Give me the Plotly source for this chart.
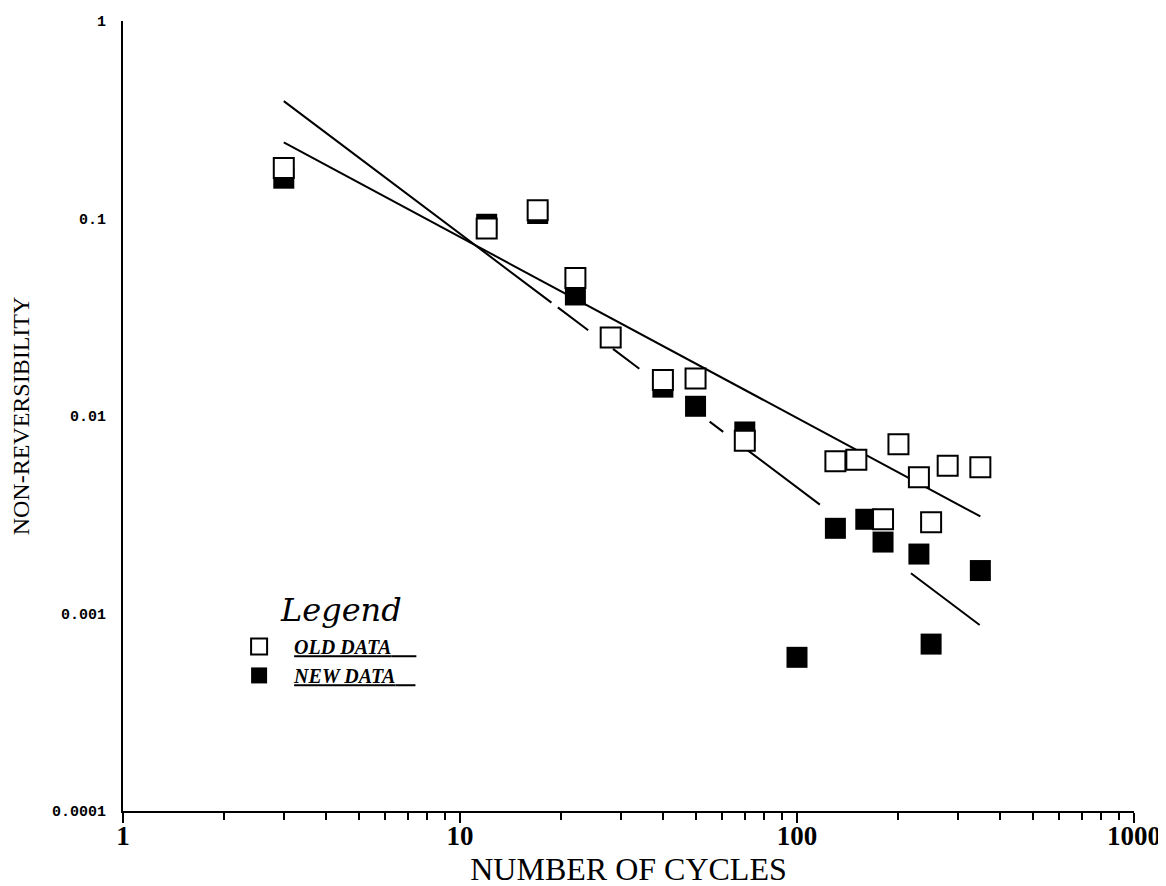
import plotly.graph_objects as go

# ---- data ----
old_cycles = [3, 12, 17, 22, 28, 40, 50, 70, 130, 150, 180, 200, 230, 250, 280, 350]
old_nonrev = [0.18, 0.089, 0.11, 0.050, 0.025, 0.0152, 0.0155, 0.0075,
              0.0059, 0.0060, 0.0030, 0.0072, 0.0049, 0.0029, 0.0056, 0.0055]
new_cycles = [3, 12, 17, 22, 40, 50, 70, 100, 130, 160, 180, 230, 250, 350]
new_nonrev = [0.16, 0.0935, 0.106, 0.041, 0.014, 0.0112, 0.0083, 0.0006,
              0.0027, 0.0030, 0.0023, 0.0020, 0.0007, 0.00165]
fit_cycles = [3, 350]
fit_old = [0.243, 0.0031]
fit_new = [0.393, 0.00087]

x_tickvals = [1, 10, 100, 1000]
x_ticktext = ["1", "10", "100", "1000"]
y_tickvals = [1, 0.1, 0.01, 0.001, 0.0001]
y_ticktext = ["1", "0.1", "0.01", "0.001", "0.0001"]

SERIF = "Liberation Serif, Times New Roman, serif"
NB = "\u00a0"

fig = go.Figure()

fig.add_trace(go.Scatter(
    x=fit_cycles, y=fit_old, mode="lines", showlegend=False, hoverinfo="skip",
    line=dict(color="black", width=2)))
fig.add_trace(go.Scatter(
    x=fit_cycles, y=fit_new, mode="lines", showlegend=False, hoverinfo="skip",
    line=dict(color="black", width=2,
              dash="335px,8px,38px,31px,33px,88px,17px,27px,94px,114px,86px,60px")))

fig.add_trace(go.Scatter(
    x=new_cycles, y=new_nonrev, mode="markers",
    name="<u><i>NEW DATA</i>" + NB * 4 + "</u>",
    legendrank=2, legendgroup="new",
    marker=dict(symbol="square", size=21, color="black", line=dict(width=0))))
fig.add_trace(go.Scatter(
    x=old_cycles, y=old_nonrev, mode="markers",
    name="<u><i>OLD DATA</i>" + NB * 5 + "</u>",
    legendrank=1, legendgroup="old",
    marker=dict(symbol="square", size=20, color="white",
                line=dict(width=2, color="black"))))

fig.add_annotation(
    text="Legend", xref="paper", yref="paper", x=0.153, y=0.254,
    xanchor="left", yanchor="middle", showarrow=False,
    font=dict(family="DejaVu Serif", size=32, style="italic", weight="normal"))

fig.update_layout(
    width=1166, height=886,
    margin=dict(l=115, r=40, t=13, b=83, autoexpand=False),
    paper_bgcolor="white", plot_bgcolor="white",
    font=dict(family=SERIF, color="black"),
    showlegend=True,
    legend=dict(
        x=0.1, y=0.233, xanchor="left", yanchor="top",
        bgcolor="rgba(0,0,0,0)", borderwidth=0,
        traceorder="grouped", tracegroupgap=0, itemwidth=60,
        font=dict(family=SERIF, size=20, style="italic", weight="bold"),
    ),
    xaxis=dict(
        type="log", range=[0, 3], automargin=False,
        showgrid=False, zeroline=False,
        showline=True, linecolor="black", linewidth=2,
        ticks="outside", ticklen=10, tickwidth=1.5, tickcolor="black",
        tickmode="array", tickvals=x_tickvals, ticktext=x_ticktext,
        tickfont=dict(family=SERIF, size=27, weight="bold"),
        ticklabelstandoff=-10,
        minor=dict(ticks="outside", ticklen=7, tickwidth=1.5, tickcolor="black",
                   dtick="D1", showgrid=False),
        title=dict(text="NUMBER OF CYCLES", font=dict(family=SERIF, size=32),
                   standoff=4),
    ),
    yaxis=dict(
        type="log", range=[-4, 0], automargin=False,
        showgrid=False, zeroline=False,
        showline=True, linecolor="black", linewidth=2,
        ticks="",
        tickmode="array", tickvals=y_tickvals, ticktext=y_ticktext,
        tickfont=dict(family="Liberation Mono", size=15, weight="bold"),
        ticklabelstandoff=12,
        title=dict(text="NON-REVERSIBILITY", font=dict(family=SERIF, size=24),
                   standoff=20),
    ),
)

fig.write_html("out.html")
